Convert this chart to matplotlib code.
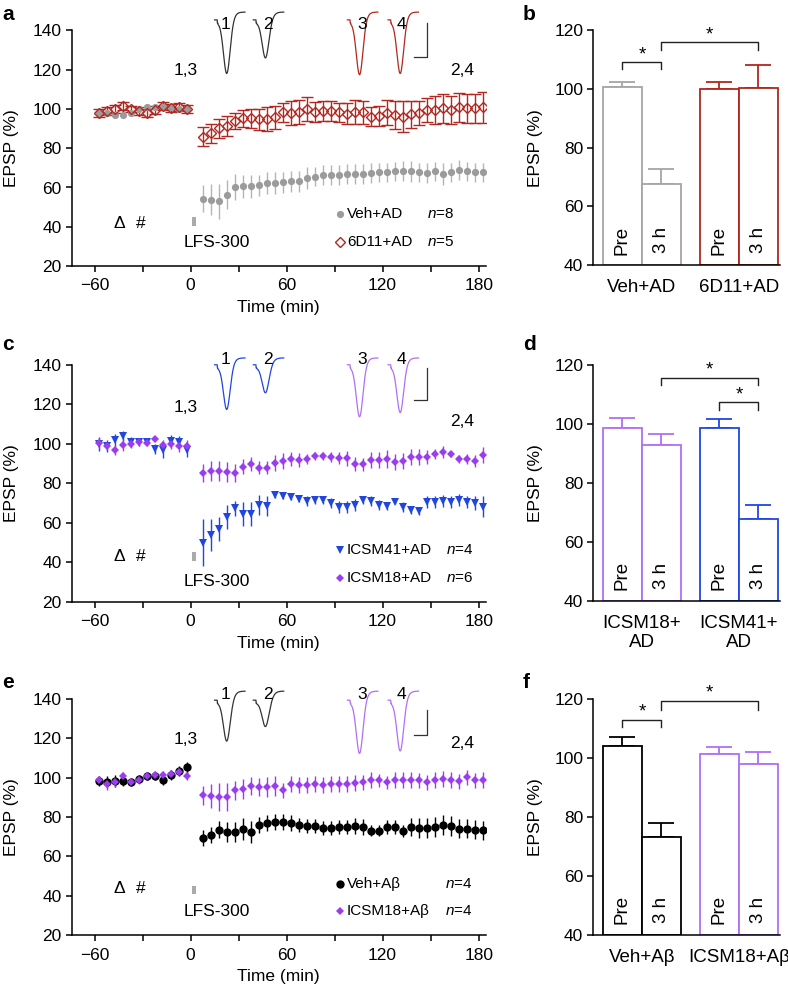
import numpy as np
import matplotlib
matplotlib.use("Agg")
import matplotlib.pyplot as plt
from matplotlib.patches import Rectangle

plt.rcParams['font.family'] = ['Liberation Sans', 'DejaVu Sans']
plt.rcParams['mathtext.fontset'] = 'custom'
plt.rcParams['mathtext.rm'] = 'Liberation Sans'
plt.rcParams['mathtext.it'] = 'Liberation Sans:italic'

# ---------------- data ----------------
t_pre = [-57.5, -52.5, -47.5, -42.5, -37.5, -32.5, -27.5, -22.5, -17.5, -12.5, -7.5, -2.5]
t_post = [7.5, 12.5, 17.5, 22.5, 27.5, 32.5, 37.5, 42.5, 47.5, 52.5, 57.5, 62.5,
          67.5, 72.5, 77.5, 82.5, 87.5, 92.5, 97.5, 102.5, 107.5, 112.5, 117.5, 122.5,
          127.5, 132.5, 137.5, 142.5, 147.5, 152.5, 157.5, 162.5, 167.5, 172.5, 177.5, 182.5]

# panel a
vehAD_pre = [98, 98, 97, 97, 98, 100, 101, 101, 101, 101, 100, 100]
vehAD_pre_err = [1.5] * 12
vehAD_post = [54.3, 53.8, 53.0, 56.3, 60.2, 60.6, 60.6, 61.1, 62.3, 62.3, 62.6, 63.1,
              63.1, 64.8, 65.6, 66.5, 66.5, 66.5, 66.8, 67.0, 67.0, 67.3, 67.7, 67.7,
              68.2, 68.5, 68.2, 67.7, 67.3, 68.2, 67.0, 67.7, 69.0, 68.2, 67.7, 67.7]
vehAD_post_err = [7, 8, 9, 7.5, 6.5, 6, 6, 5.5, 5.5, 5.5, 5.5, 5.5, 5.5, 5.5, 5, 5, 5, 5,
                  5, 5, 5, 5, 5, 5, 5, 5, 5.5, 5, 5, 5, 5.5, 5, 5, 5, 5, 5]
d6AD_pre = [98, 99, 100, 101.5, 100, 99, 98, 99.5, 101.5, 100.3, 101, 100]
d6AD_pre_err = [2, 2, 2, 2, 1.5, 2, 2, 2, 2, 2, 2, 2]
d6AD_post = [85.9, 87.6, 90.1, 91.3, 94.0, 95.2, 95.2, 94.7, 94.9, 95.7, 98.3, 98.1,
             98.6, 100.0, 98.6, 98.9, 98.9, 98.3, 97.7, 98.6, 98.3, 96.1, 96.4, 98.1,
             96.9, 96.1, 97.2, 98.1, 99.4, 99.4, 100.3, 99.4, 100.8, 100.3, 100.3, 100.8]
d6AD_post_err = [5, 5, 5, 5, 4, 4.5, 5, 5.5, 6, 6, 5, 6, 6, 6, 5, 5, 5, 5, 5.5, 6, 6, 5, 5,
                 6.5, 7, 8, 7, 6, 6, 7, 7.5, 7, 7.5, 7.5, 7.5, 8]

# panel c
icsm41_pre = [100, 99, 102, 104, 101, 101, 101, 97.5, 97, 101.5, 101, 97]
icsm41_pre_err = [3.5, 3, 3, 2.5, 2.5, 2, 1.5, 2.5, 4, 3, 3, 3.5]
icsm41_post = [49.9, 53.8, 56.7, 63.1, 67.3, 64.5, 64.5, 69.0, 68.5, 74.1, 73.8, 73.2,
               72.1, 71.0, 71.5, 71.5, 70.2, 68.2, 67.8, 69.0, 71.5, 71.0, 69.0, 68.7,
               70.7, 68.2, 66.5, 66.1, 70.7, 70.7, 71.0, 70.7, 71.5, 70.7, 69.9, 68.2]
icsm41_post_err = [12, 8, 6, 6, 4, 6, 6, 5, 5, 1.5, 1.5, 1.5, 1.5, 2.5, 2, 2, 2.5, 3, 3, 3,
                   2, 2.5, 2.5, 2, 1, 2.5, 2, 2, 3, 3, 3, 3, 3, 3, 3.5, 5.5]
icsm18_pre = [100.5, 99, 97, 99.5, 100, 101, 100.5, 102.5, 99.5, 100, 99, 99]
icsm18_pre_err = [2.5, 2, 2.5, 3, 2, 2, 1.5, 1, 2.5, 2.5, 3, 3]
icsm18_post = [85.4, 86.3, 86.4, 85.9, 85.1, 88.5, 89.8, 88.0, 88.0, 90.5, 91.3, 92.2,
               91.8, 92.2, 93.9, 93.9, 93.5, 93.0, 92.6, 89.8, 89.6, 91.8, 91.8, 92.3,
               91.0, 91.3, 93.5, 93.5, 93.5, 94.7, 96.0, 94.7, 92.2, 92.2, 91.3, 94.4]
icsm18_post_err = [4.5, 5, 5, 5, 4.5, 4, 3.5, 3.5, 3.5, 4, 4, 3.5, 3.5, 2.5, 2, 2, 2.5, 3,
                   4, 3.5, 3.5, 4, 4, 4.5, 4, 4, 4, 4, 3.5, 2.5, 3, 1.5, 2, 2.5, 3, 4]

# panel e
vehAb_pre = [98.1, 98.0, 98.4, 98.4, 98.0, 99.2, 100.6, 100.6, 98.9, 101.5, 103.2, 105.2]
vehAb_pre_err = [2.5, 3, 3, 2.5, 2, 2, 2, 2, 2.5, 2.5, 2.5, 3]
vehAb_post = [69.4, 70.7, 73.6, 72.4, 72.4, 73.9, 72.4, 75.8, 77.0, 77.5, 77.3, 76.8,
              76.1, 75.3, 75.3, 74.4, 74.4, 74.8, 74.8, 75.6, 74.8, 73.1, 73.1, 74.8,
              74.8, 72.7, 74.8, 74.4, 74.4, 74.8, 75.8, 75.3, 74.1, 74.1, 73.6, 73.2]
vehAb_post_err = [4, 4, 4.5, 5, 5, 5.5, 5.5, 4, 4, 4, 4, 4, 3.5, 3.5, 3.5, 3.5, 3.5, 3.5,
                  3.5, 4, 4, 3, 3, 3.5, 3.5, 3, 4.5, 5, 5, 5, 5, 5, 5, 5, 5, 5]
icsmAb_pre = [98.6, 96.9, 98.0, 100.9, 97.6, 98.9, 100.9, 101.5, 101.5, 102.0, 102.7, 100.9]
icsmAb_pre_err = [2, 3, 2.5, 2, 2, 2, 2, 2, 2, 2, 2, 2]
icsmAb_post = [91.0, 90.8, 90.1, 90.1, 93.5, 94.2, 95.6, 95.2, 95.2, 95.6, 93.5, 96.9,
               96.1, 96.1, 96.7, 96.4, 96.7, 96.9, 96.9, 97.2, 97.6, 98.9, 98.6, 97.6,
               98.9, 98.9, 98.9, 98.6, 97.6, 98.9, 99.3, 98.9, 98.1, 100.1, 98.6, 98.9]
icsmAb_post_err = [5, 6, 7, 7, 5, 5, 4.5, 4.5, 5, 5, 4, 4, 4, 4, 4, 4, 4, 4, 4, 4, 4, 4,
                   3.5, 3.5, 4, 4, 4, 4, 4, 4, 4, 4, 4, 4, 4, 4]

# bar panels: [Pre, 3 h] for each group
bar_labels = ['Pre', '3 h']
b_groups = ['Veh+AD', '6D11+AD']
b_means = [[100.7, 67.8], [100.1, 100.5]]
b_errs = [[1.7, 4.8], [2.5, 7.6]]
d_groups = ['ICSM18+\nAD', 'ICSM41+\nAD']
d_means = [[98.8, 92.9], [98.5, 67.8]]
d_errs = [[3.2, 3.6], [3.2, 4.7]]
f_groups = ['Veh+A\u03b2', 'ICSM18+A\u03b2']
f_means = [[103.9, 73.2], [101.4, 97.9]]
f_errs = [[3.1, 4.9], [2.2, 4.1]]

# example trace minima (EPSP traces 1-4)
a_trace_min = [118.9, 126.5, 118.3, 118.9]
c_trace_min = [118.1, 126.2, 114.5, 116.6]
e_trace_min = [119.1, 126.2, 113.1, 114.3]

# ---------------- colours ----------------
GRAY = '#9b9b9b'
GRAY_E = '#b4b4b4'
RED = '#b0281f'
BLUE = '#2146e0'
PURP = '#9a3cf0'
PURP_L = '#b070f5'
BLACK = '#000000'

W, H = 788, 988
fig = plt.figure(figsize=(W / 100, H / 100), dpi=100)


def ax_px(left, top, right, bottom):
    return fig.add_axes([left / W, 1 - bottom / H, (right - left) / W, (bottom - top) / H])


FS = 12.5       # ticks / axis labels
FS_LEG = 11     # legend text
FS_BAR = 13.5   # bar panel labels


def style_ax(ax):
    for s in ['top', 'right']:
        ax.spines[s].set_visible(False)
    for s in ['left', 'bottom']:
        ax.spines[s].set_linewidth(1.1)
    ax.tick_params(axis='both', labelsize=FS, length=4, width=1.1, direction='out', pad=3)


def trace(ax, t0, base, top, vmin, color, lbl, lx, ly):
    s = np.linspace(0, 1, 240)
    width = 19.0
    depth = base - vmin
    g = 1 / (1 + np.exp(-(s - 0.62) / 0.07))
    f = np.exp(-((s - 0.40) / 0.15) ** 2)
    y = base - depth * f / 0.96 + (top - base) * g
    y = np.where(s < 0.09, base + 1.6, y)
    y = np.where((s >= 0.09) & (s < 0.11), base, y)
    ax.plot(t0 + s * width, y, color=color, lw=0.9, clip_on=False)
    ax.text(lx, ly, lbl, fontsize=FS, ha='center', va='center')


def ts_panel(ax, series, traces, tr_base, tr_top, tr_lbl_y, legend_rows, ntxt_x, lfs_y,
             delta_y, lbl13_y, lbl24_y, sb):
    style_ax(ax)
    ax.tick_params(axis='x', pad=5)
    for (tp, yp, ep, tq, yq, eq, kw) in series:
        ax.errorbar(list(tp) + list(tq), list(yp) + list(yq), yerr=list(ep) + list(eq),
                    **kw, elinewidth=1.0, capsize=4.2, capthick=1.0, zorder=3)
    ax.set_xlim(-74.4, 184.6)
    ax.set_ylim(20, 140)
    ax.set_xticks([-60, 0, 60, 120, 180])
    ax.set_xticklabels(['\u221260', '0', '60', '120', '180'])
    ax.set_xticks([-30, 30, 90, 150], minor=True)
    ax.tick_params(axis='x', which='minor', length=4, width=1.1)
    ax.set_yticks([20, 40, 60, 80, 100, 120, 140])
    ax.set_xlabel('Time (min)', fontsize=FS, labelpad=5)
    ax.set_ylabel('EPSP (%)', fontsize=FS)
    ax.yaxis.set_label_coords(-0.127, 0.5)
    # LFS marker
    ax.add_patch(Rectangle((1.0, 40.6), 2.6, 4.4, color='#aaaaaa', lw=0, zorder=2))
    ax.text(16.2, lfs_y, 'LFS-300', fontsize=FS, ha='center', va='center')
    ax.text(-44.4, delta_y, '\u0394', fontsize=FS, ha='center', va='center')
    ax.text(-31, delta_y, '#', fontsize=FS, ha='center', va='center')
    ax.text(-3, lbl13_y, '1,3', fontsize=FS, ha='center', va='center')
    ax.text(169.5, lbl24_y, '2,4', fontsize=FS, ha='center', va='center')
    # traces
    starts = [15.0, 39.2, 98.0, 123.4]
    lxs = [21.8, 48.4, 107.5, 131.8]
    for i, (vm, col) in enumerate(traces):
        trace(ax, starts[i], tr_base, tr_top, vm, col, str(i + 1), lxs[i], tr_lbl_y)
    # scale bar
    x_sb, y_top, y_bot = sb
    ax.plot([139.8, x_sb, x_sb], [y_bot, y_bot, y_top], color='#333333', lw=0.9, clip_on=False)
    # legend
    for (ly, mk, name, ntxt) in legend_rows:
        ax.plot([93.6], [ly], **mk, clip_on=False)
        ax.text(97.8, ly, name, fontsize=FS_LEG, ha='left', va='center')
        ax.text(ntxt_x, ly, ntxt, fontsize=FS_LEG, ha='left', va='center')


# ---------- panel a ----------
axa = ax_px(71.5, 30.5, 486, 266)
ser_a = [
    (t_pre, vehAD_pre, vehAD_pre_err, t_post, vehAD_post, vehAD_post_err,
     dict(fmt='o', color=GRAY, ecolor=GRAY_E, markersize=5.2, markeredgewidth=0)),
    (t_pre, d6AD_pre, d6AD_pre_err, t_post, d6AD_post, d6AD_post_err,
     dict(fmt='D', color=RED, ecolor=RED, markersize=5.0, markerfacecolor='none',
          markeredgewidth=1.0)),
]
leg_a = [(46.5, dict(marker='o', color=GRAY, markersize=5.2, markeredgewidth=0, ls='none'),
          'Veh+AD', r'$\mathit{n}$=8'),
         (32.2, dict(marker='D', color=RED, markersize=5.0, markerfacecolor='none',
                     markeredgewidth=1.0, ls='none'), '6D11+AD', r'$\mathit{n}$=5')]
ts_panel(axa, ser_a, [(a_trace_min[0], '#333333'), (a_trace_min[1], '#333333'),
                      (a_trace_min[2], RED), (a_trace_min[3], RED)],
         143.8, 149.4, 143.3, leg_a, 147.6, 31.8, 41.6, 119.7, 119.7, (147.6, 143.7, 126.7))

# ---------- panel c ----------
axc = ax_px(71.5, 365, 486, 601.7)
ser_c = [
    (t_pre, icsm41_pre, icsm41_pre_err, t_post, icsm41_post, icsm41_post_err,
     dict(fmt='v', color=BLUE, ecolor=BLUE, markersize=5.6, markeredgewidth=0)),
    (t_pre, icsm18_pre, icsm18_pre_err, t_post, icsm18_post, icsm18_post_err,
     dict(fmt='D', color=PURP, ecolor=PURP, markersize=4.5, markeredgewidth=0)),
]
leg_c = [(46.2, dict(marker='v', color=BLUE, markersize=5.6, markeredgewidth=0, ls='none'),
          'ICSM41+AD', r'$\mathit{n}$=4'),
         (31.8, dict(marker='D', color=PURP, markersize=4.5, markeredgewidth=0, ls='none'),
          'ICSM18+AD', r'$\mathit{n}$=6')]
ts_panel(axc, ser_c, [(c_trace_min[0], BLUE), (c_trace_min[1], BLUE),
                      (c_trace_min[2], PURP_L), (c_trace_min[3], PURP_L)],
         138.5, 143.6, 142.8, leg_c, 159.9, 30.1, 42.8, 118.5, 111.3, (147.6, 138.3, 122.2))

# ---------- panel e ----------
axe = ax_px(71.5, 699, 486, 935)
ser_e = [
    (t_pre, vehAb_pre, vehAb_pre_err, t_post, vehAb_post, vehAb_post_err,
     dict(fmt='o', color=BLACK, ecolor=BLACK, markersize=6.0, markeredgewidth=0)),
    (t_pre, icsmAb_pre, icsmAb_pre_err, t_post, icsmAb_post, icsmAb_post_err,
     dict(fmt='D', color=PURP, ecolor=PURP, markersize=4.5, markeredgewidth=0)),
]
leg_e = [(46.0, dict(marker='o', color=BLACK, markersize=6.0, markeredgewidth=0, ls='none'),
          'Veh+A\u03b2', r'$\mathit{n}$=4'),
         (32.2, dict(marker='D', color=PURP, markersize=4.5, markeredgewidth=0, ls='none'),
          'ICSM18+A\u03b2', r'$\mathit{n}$=4')]
ts_panel(axe, ser_e, [(e_trace_min[0], '#333333'), (e_trace_min[1], '#333333'),
                      (e_trace_min[2], PURP_L), (e_trace_min[3], PURP_L)],
         137.8, 144.0, 142.3, leg_e, 158.8, 32.2, 43.5, 119.2, 117.6, (147.6, 134.4, 121.7))


# ---------- bar panels ----------
def bar_panel(ax, groups, means, errs, colors, brackets):
    style_ax(ax)
    xs = [[0, 1], [2.5, 3.5]]
    for g in range(2):
        for k in range(2):
            x = xs[g][k]
            ax.bar(x, means[g][k] - 40, bottom=40, width=1.0, facecolor='white',
                   edgecolor=colors[g], linewidth=1.3, zorder=2)
            ax.errorbar(x, means[g][k], yerr=[[0], [errs[g][k]]], color=colors[g],
                        elinewidth=1.3, capsize=9.5, capthick=1.3, zorder=1)
            ax.text(x, 48.5, bar_labels[k], rotation=90, fontsize=FS_BAR, ha='center',
                    va='center', zorder=3)
    ax.set_xlim(-0.76, 4.06)
    ax.set_ylim(40, 120)
    ax.set_yticks([40, 60, 80, 100, 120])
    ax.set_xticks([0.5, 3.0])
    ax.set_xticklabels(groups, fontsize=FS_BAR, linespacing=1.2)
    ax.tick_params(axis='x', length=0, pad=10)
    ax.set_ylabel('EPSP (%)', fontsize=FS)
    ax.yaxis.set_label_coords(-0.267, 0.5)
    for (x1, x2, yb, yt, ys) in brackets:
        ax.plot([x1, x1, x2, x2], [yt, yb, yb, yt], color='#222222', lw=1.0, clip_on=False)
        ax.text((x1 + x2) / 2, ys, '*', fontsize=FS + 1, ha='center', va='center')


axb = ax_px(593, 30.5, 780, 265)
bar_panel(axb, b_groups, b_means, b_errs, ['#a5a5a5', RED],
          [(0, 1, 109.4, 106.7, 111.6), (1, 3.5, 116.0, 113.2, 118.4)])
axd = ax_px(593, 365, 780, 601)
bar_panel(axd, d_groups, d_means, d_errs, [PURP_L, BLUE],
          [(1, 3.5, 115.5, 113.2, 118.2), (2.5, 3.5, 107.3, 104.7, 110.0)])
axf = ax_px(593, 699, 780, 935)
bar_panel(axf, f_groups, f_means, f_errs, [BLACK, PURP_L],
          [(0, 1, 113.0, 110.5, 115.6), (1, 3.5, 119.2, 116.4, 122.0)])

# panel letters
for lbl, x, y in [('a', 2, 14), ('b', 523, 14), ('c', 2, 345), ('d', 523, 345),
                  ('e', 2, 683), ('f', 523, 683)]:
    fig.text(x / W, 1 - y / H, lbl, fontsize=15, fontweight='bold', ha='left', va='center')

fig.savefig('out.png', dpi=100)
